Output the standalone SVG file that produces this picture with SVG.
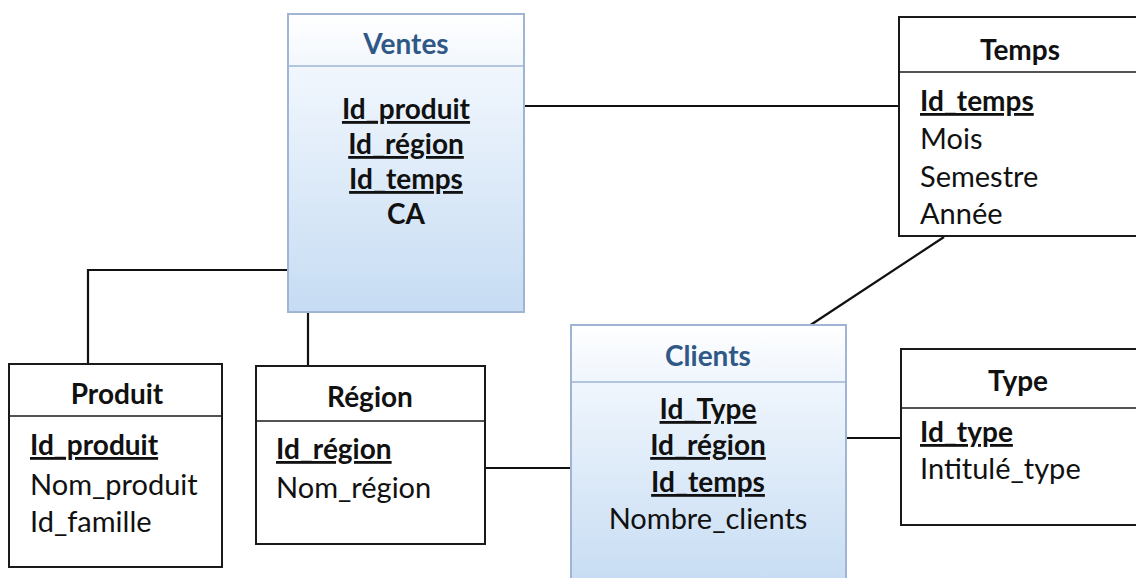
<svg xmlns="http://www.w3.org/2000/svg" width="1136" height="578" viewBox="0 0 1136 578">
  <defs>
    <linearGradient id="fact-fill" x1="0" y1="0" x2="0" y2="1">
      <stop offset="0" stop-color="#ffffff"/>
      <stop offset="0.2" stop-color="#f0f6fd"/>
      <stop offset="1" stop-color="#c6dcf3"/>
    </linearGradient>
    <style>
      text { font-family: Lato, "Liberation Sans", sans-serif; font-size: 29px; fill: #111; }
      .dim { fill: #ffffff; stroke: #1a1a1a; stroke-width: 2; }
      .fact { fill: url(#fact-fill); stroke: #9fb5d3; stroke-width: 2; }
      .sep { stroke: #1a1a1a; stroke-width: 1.6; }
      .fsep { stroke: #9fb5d3; stroke-width: 1.6; }
      .title { font-weight: bold; font-size: 28px; text-anchor: middle; }
      .ftitle { font-weight: bold; font-size: 28px; text-anchor: middle; fill: #2f5887; }
      .key { font-weight: bold; font-size: 28px; text-decoration: underline; text-decoration-thickness: 2.5px; }
      .c { text-anchor: middle; }
      .b { font-weight: bold; font-size: 28px; }
      .link { stroke: #111; stroke-width: 2.2; fill: none; }
    </style>
  </defs>

  <!-- relationship lines -->
  <g id="connectors">
    <line class="link" x1="524" y1="106" x2="899" y2="106"/>
    <polyline class="link" points="288,270 88,270 88,364"/>
    <line class="link" x1="308" y1="312" x2="308" y2="366"/>
    <line class="link" x1="944" y1="237" x2="809" y2="326"/>
    <line class="link" x1="485" y1="468" x2="571" y2="468"/>
    <line class="link" x1="846" y1="438" x2="901" y2="438"/>
  </g>

  <!-- fact table: Ventes -->
  <g id="ventes">
    <rect class="fact" x="288" y="14" width="236" height="298"/>
    <line class="fsep" x1="288" y1="66" x2="524" y2="66"/>
    <text class="ftitle" x="406" y="54">Ventes</text>
    <text class="key c" x="406" y="119">Id_produit</text>
    <text class="key c" x="406" y="154">Id_région</text>
    <text class="key c" x="406" y="189">Id_temps</text>
    <text class="b c" x="406" y="224">CA</text>
  </g>

  <!-- dimension: Temps -->
  <g id="temps">
    <rect class="dim" x="899" y="17" width="250" height="219"/>
    <line class="sep" x1="899" y1="72" x2="1136" y2="72"/>
    <text class="title" x="1020" y="60">Temps</text>
    <text class="key" x="920" y="111">Id_temps</text>
    <text x="920" y="149">Mois</text>
    <text x="920" y="187">Semestre</text>
    <text x="920" y="224">Année</text>
  </g>

  <!-- fact table: Clients -->
  <g id="clients">
    <rect class="fact" x="571" y="325" width="275" height="265"/>
    <line class="fsep" x1="571" y1="382" x2="846" y2="382"/>
    <text class="ftitle" x="708" y="366">Clients</text>
    <text class="key c" x="708" y="419">Id_Type</text>
    <text class="key c" x="708" y="455">Id_région</text>
    <text class="key c" x="708" y="492">Id_temps</text>
    <text class="c" x="708" y="529">Nombre_clients</text>
  </g>

  <!-- dimension: Produit -->
  <g id="produit">
    <rect class="dim" x="9" y="364" width="213" height="203"/>
    <line class="sep" x1="9" y1="416" x2="222" y2="416"/>
    <text class="title" x="117" y="404">Produit</text>
    <text class="key" x="30" y="455">Id_produit</text>
    <text x="30" y="495">Nom_produit</text>
    <text x="30" y="532">Id_famille</text>
  </g>

  <!-- dimension: Région -->
  <g id="region">
    <rect class="dim" x="256" y="366" width="229" height="178"/>
    <line class="sep" x1="256" y1="421" x2="485" y2="421"/>
    <text class="title" x="370" y="407">Région</text>
    <text class="key" x="276" y="459">Id_région</text>
    <text x="276" y="498">Nom_région</text>
  </g>

  <!-- dimension: Type -->
  <g id="type">
    <rect class="dim" x="901" y="349" width="250" height="176"/>
    <line class="sep" x1="901" y1="408" x2="1136" y2="408"/>
    <text class="title" x="1018" y="391">Type</text>
    <text class="key" x="920" y="442">Id_type</text>
    <text x="920" y="479">Intitulé_type</text>
  </g>
</svg>
